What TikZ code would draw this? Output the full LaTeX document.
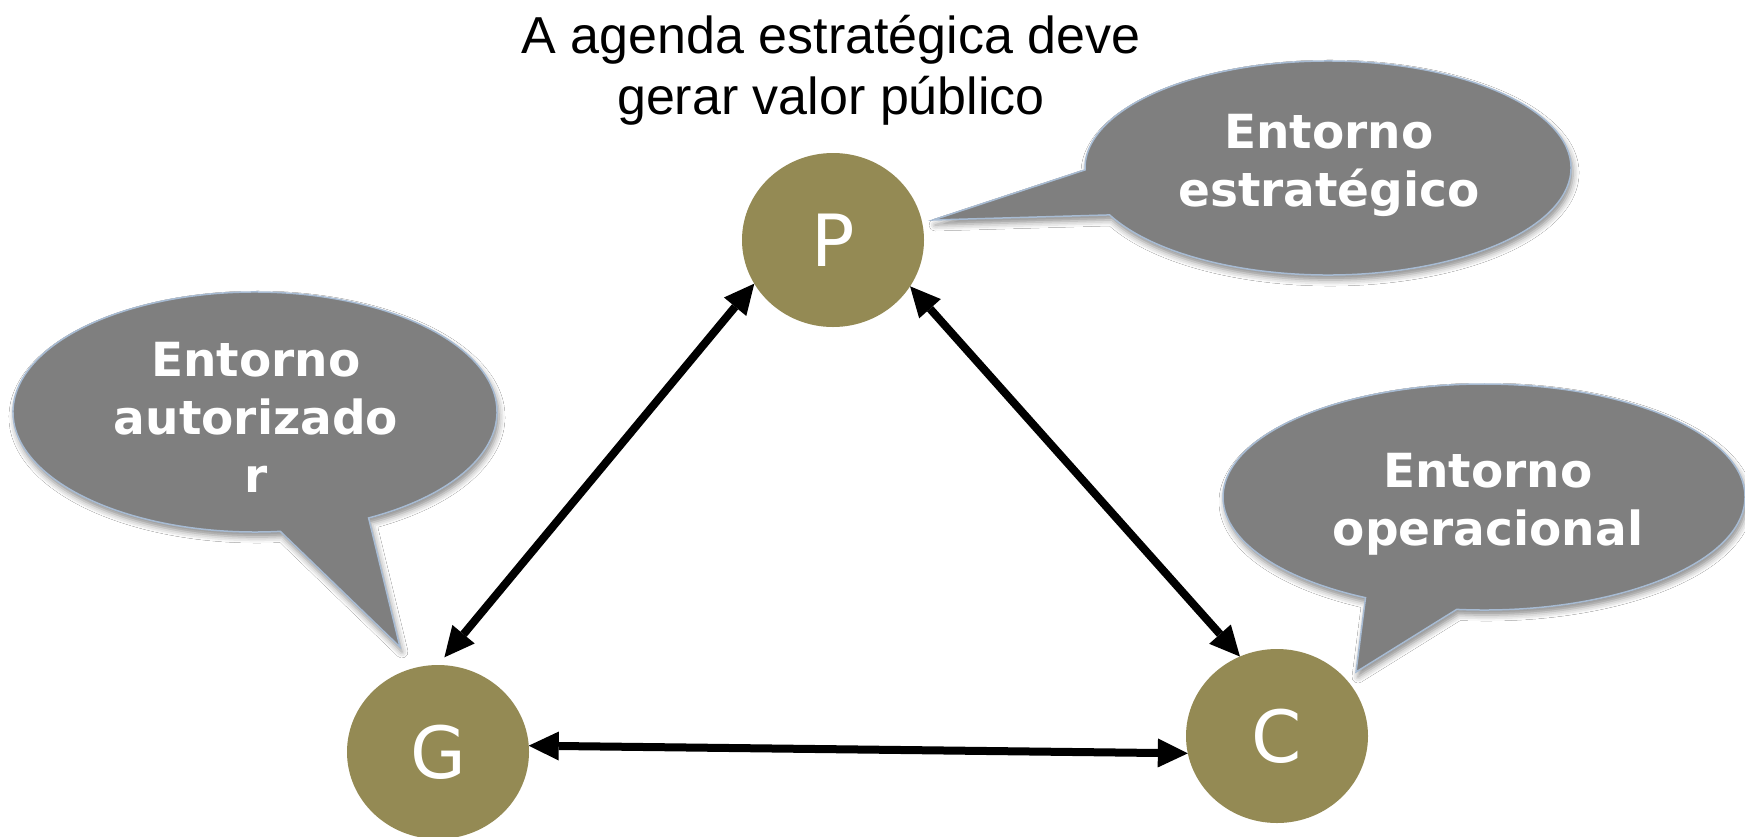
\documentclass[tikz,border=0pt]{standalone}
\usepackage{fontspec}
\setmainfont{DejaVu Sans}
\newfontfamily\titlefont{Liberation Sans}
\usetikzlibrary{arrows.meta,shapes.geometric,shadows.blur}
\definecolor{actorolive}{HTML}{948A54}
\definecolor{bubblegray}{HTML}{7F7F7F}
\definecolor{bubbleedge}{HTML}{A7BBD3}
\begin{document}
\begin{tikzpicture}[x=1pt,y=1pt,
  actor/.style={ellipse, fill=actorolive, minimum width=182pt, minimum height=174pt,
    inner sep=0pt, outer sep=0pt, text=white, font=\fontsize{72}{86}\selectfont},
  bubble/.style={fill=bubblegray, draw=bubbleedge, line width=1.5pt,
    blur shadow={shadow xshift=2pt, shadow yshift=-5pt, shadow blur radius=6pt, shadow opacity=45}},
  bubbletext/.style={align=center, text=white, font=\bfseries\fontsize{47}{58}\selectfont},
  link/.style={line width=8pt, line join=miter,
    {Triangle[length=30pt,width=29pt,line width=0pt,fill=black]}-{Triangle[length=30pt,width=29pt,line width=0pt,fill=black]}},
]
\fill[white] (0,0) rectangle (1745,-836);
\useasboundingbox (0,0) rectangle (1745,-836);

% tips of the speech bubbles
\coordinate (tipE) at (933,-220);
\coordinate (tipA) at (400,-647);
\coordinate (tipO) at (1356,-672);

% speech bubbles: elliptic body plus a pointed tail
\path[bubble] (1328,-168) ++(206:243pt and 107pt)
  arc[start angle=206, end angle=541, x radius=243pt, y radius=107pt] -- (tipE) -- cycle;
\path[bubble] (255,-412) ++(298:242pt and 120pt)
  arc[start angle=298, end angle=636, x radius=242pt, y radius=120pt] -- (tipA) -- cycle;
\path[bubble] (1484,-497) ++(264:261pt and 113pt)
  arc[start angle=264, end angle=603, x radius=261pt, y radius=113pt] -- (tipO) -- cycle;

\node[bubbletext] (estr) at (1329,-165) {Entorno\\estratégico};
\node[bubbletext] (autz) at (256,-417) {Entorno\\autorizado\\r};
\node[bubbletext] (oper) at (1488,-504) {Entorno\\operacional};

% title
\node[align=center, font=\titlefont\fontsize{52}{61}\selectfont] (title) at (831,-70)
  {A agenda estratégica deve\\gerar valor público};

% the three actors
\node[actor] (P) at (833,-240) {P};
\node[actor] (G) at (438,-752) {G};
\node[actor] (C) at (1277,-736) {C};

% relations
\draw[link, shorten >=10pt] (P.209) -- (G.90);
\draw[link] (P.329) -- (C.115);
\draw[link] (G.4) -- (C.191);
\end{tikzpicture}
\end{document}
